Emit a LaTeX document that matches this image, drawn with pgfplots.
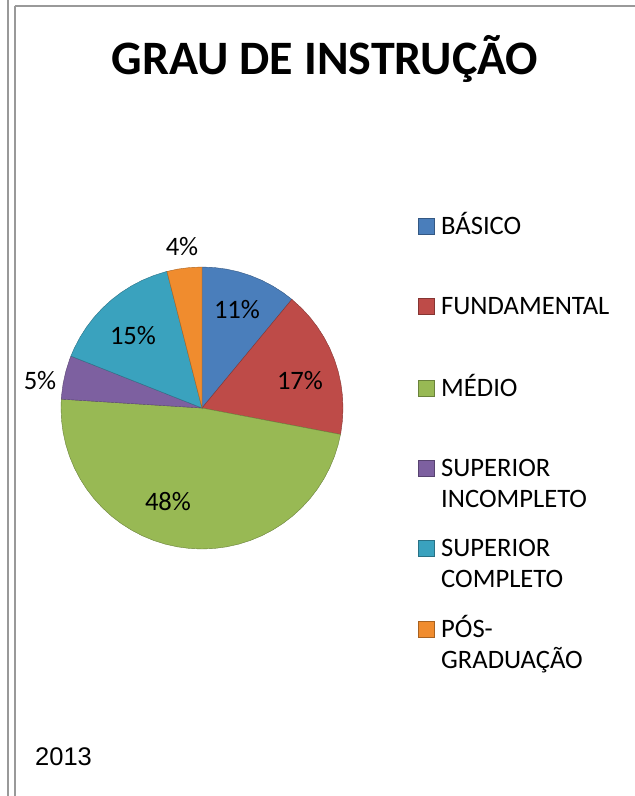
\documentclass[border=0pt]{standalone}
\usepackage{pgfplots}
\pgfplotsset{compat=1.18}
\usepackage{fontspec}
\setmainfont{Carlito}
\newfontfamily\arialfont{Liberation Sans}
\definecolor{cBas}{HTML}{4A7EBB}
\definecolor{cFun}{HTML}{BE4B48}
\definecolor{cMed}{HTML}{98B954}
\definecolor{cSupI}{HTML}{7D60A0}
\definecolor{cSupC}{HTML}{3AA2BE}
\definecolor{cPos}{HTML}{F08C2E}
\begin{document}
\begin{tikzpicture}[x=1pt,y=1pt]
\useasboundingbox (0,0) rectangle (635,-796);
% frame
\draw[gray!80, line width=2pt] (8,0) -- (8,-796);
\draw[gray!80, line width=2pt] (14.5,-5.5) -- (14.5,-796);
\draw[gray!80, line width=2pt] (14.5,-5.5) -- (635,-5.5);
% title
\node[font=\fontsize{48}{57}\bfseries\selectfont, anchor=base] at (325,-74) {GRAU DE INSTRUÇÃO};
% pie
\begin{axis}[at={(202pt,-408pt)}, anchor=origin, x=1pt, y=1pt,
  xmin=-150, xmax=150, ymin=-150, ymax=150, hide axis, clip=false,
  every axis plot/.append style={data cs=polar, line width=0.4pt}]
% BASICO 11%
\addplot[fill=cBas, draw=cBas!70!black] coordinates {(0,0) (90,141) (85,141) (80,141) (75,141) (70,141) (65,141) (60,141) (55,141) (50.4,141)} -- cycle;
% FUNDAMENTAL 17%
\addplot[fill=cFun, draw=cFun!70!black] coordinates {(0,0) (50.4,141) (45,141) (40,141) (35,141) (30,141) (25,141) (20,141) (15,141) (10,141) (5,141) (0,141) (-5,141) (-10,141) (-10.8,141)} -- cycle;
% MEDIO 48%
\addplot[fill=cMed, draw=cMed!70!black] coordinates {(0,0) (-10.8,141) (-15,141) (-20,141) (-25,141) (-30,141) (-35,141) (-40,141) (-45,141) (-50,141) (-55,141) (-60,141) (-65,141) (-70,141) (-75,141) (-80,141) (-85,141) (-90,141) (-95,141) (-100,141) (-105,141) (-110,141) (-115,141) (-120,141) (-125,141) (-130,141) (-135,141) (-140,141) (-145,141) (-150,141) (-155,141) (-160,141) (-165,141) (-170,141) (-175,141) (-180,141) (-183.6,141)} -- cycle;
% SUPERIOR INCOMPLETO 5%
\addplot[fill=cSupI, draw=cSupI!70!black] coordinates {(0,0) (-183.6,141) (-185,141) (-190,141) (-195,141) (-200,141) (-201.6,141)} -- cycle;
% SUPERIOR COMPLETO 15%
\addplot[fill=cSupC, draw=cSupC!70!black] coordinates {(0,0) (-201.6,141) (-205,141) (-210,141) (-215,141) (-220,141) (-225,141) (-230,141) (-235,141) (-240,141) (-245,141) (-250,141) (-255,141) (-255.6,141)} -- cycle;
% POS-GRADUACAO 4%
\addplot[fill=cPos, draw=cPos!70!black] coordinates {(0,0) (-255.6,141) (-260,141) (-265,141) (-270,141)} -- cycle;
\end{axis}
% slice labels
\begin{scope}[every node/.style={font=\fontsize{26.6}{31}\selectfont}]
\node at (237,-310) {11\%};
\node at (300,-381) {17\%};
\node at (168,-502) {48\%};
\node at (40,-381) {5\%};
\node at (133,-336) {15\%};
\node at (182,-247) {4\%};
\end{scope}
% legend
\begin{scope}[every node/.style={font=\fontsize{26.6}{31}\selectfont, anchor=base west, inner sep=0pt}]
\foreach \c/\b in {cBas/234, cFun/314, cMed/396, cSupI/476, cSupC/556, cPos/637}{
  \fill[\c] (418,-\b) rectangle (434,-\b+16);
  \draw[\c!70!black, line width=0.6pt] (418,-\b) rectangle (434,-\b+16);
}
\node at (441,-234) {BÁSICO};
\node at (441,-314) {FUNDAMENTAL};
\node at (441,-396) {MÉDIO};
\node at (441,-476) {SUPERIOR};
\node at (441,-507) {INCOMPLETO};
\node at (441,-556) {SUPERIOR};
\node at (441,-587) {COMPLETO};
\node at (441,-637) {PÓS-};
\node at (441,-668) {GRADUAÇÃO};
\end{scope}
\node[font=\arialfont\fontsize{25.5}{30}\selectfont, anchor=base west, inner sep=0pt] at (35,-765) {2013};
\end{tikzpicture}
\end{document}
